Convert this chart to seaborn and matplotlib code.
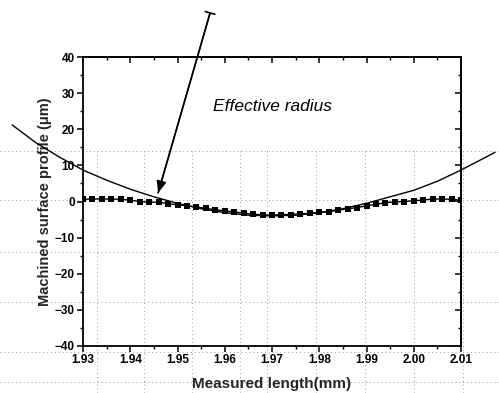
import matplotlib
matplotlib.use("Agg")
import matplotlib.pyplot as plt
import matplotlib.patches as mpatches
from matplotlib.lines import Line2D
from matplotlib.ticker import MultipleLocator
import numpy as np
import pandas as pd
import seaborn as sns

# Measured profile points (mm, µm)
measured_x = [1.930, 1.932, 1.934, 1.936, 1.938, 1.940, 1.942, 1.944, 1.946, 1.948,
              1.950, 1.952, 1.954, 1.956, 1.958, 1.960, 1.962, 1.964, 1.966, 1.968,
              1.970, 1.972, 1.974, 1.976, 1.978, 1.980, 1.982, 1.984, 1.986, 1.988,
              1.990, 1.992, 1.994, 1.996, 1.998, 2.000, 2.002, 2.004, 2.006, 2.008,
              2.010]
measured_y = [0.6, 0.7, 0.7, 0.7, 0.6, 0.4, 0.0, -0.2, -0.2, -0.6,
              -0.9, -1.2, -1.5, -1.9, -2.3, -2.6, -2.9, -3.2, -3.5, -3.7,
              -3.8, -3.6, -3.6, -3.4, -3.3, -3.0, -2.8, -2.4, -2.0, -1.7,
              -1.2, -0.8, -0.3, -0.1, 0.0, 0.2, 0.4, 0.7, 0.7, 0.6,
              0.4]

# Effective radius arc (mm, µm)
radius_x = [1.915, 1.920, 1.925, 1.930, 1.935, 1.940, 1.945, 1.950, 1.955, 1.960,
            1.965, 1.970, 1.975, 1.980, 1.985, 1.990, 1.995, 2.000, 2.005, 2.010,
            2.0172]
radius_y = [21.2, 16.3, 12.3, 8.7, 5.9, 3.4, 1.3, -0.5, -2.0, -3.1,
            -3.8, -4.0, -3.8, -3.1, -2.0, -0.5, 1.3, 3.1, 5.6, 8.7,
            13.6]

x_ticks = [1.93, 1.94, 1.95, 1.96, 1.97, 1.98, 1.99, 2.00, 2.01]
x_tick_labels = ["1.93", "1.94", "1.95", "1.96", "1.97", "1.98", "1.99", "2.00", "2.01"]
y_ticks = [-40, -30, -20, -10, 0, 10, 20, 30, 40]

sns.set_theme(style="white")
plt.rcParams["font.family"] = ["Liberation Sans", "DejaVu Sans"]

W, H = 499, 393
fig = plt.figure(figsize=(W / 100, H / 100), dpi=100)
fig.patch.set_facecolor("white")

# faint dotted graph-paper lines behind the plot
for yp in [151, 200, 252, 302, 352, 382]:
    fig.add_artist(Line2D([0, 1], [1 - yp / H] * 2, transform=fig.transFigure,
                          color="#9a9a9a", lw=0.7, ls=(0, (1, 3)), zorder=0))
for xp in [97, 144, 192, 240, 267, 316, 365, 414, 463]:
    fig.add_artist(Line2D([xp / W] * 2, [0, 1 - 150 / H], transform=fig.transFigure,
                          color="#9a9a9a", lw=0.7, ls=(0, (1, 3)), zorder=0))

ax = fig.add_axes([83 / W, 1 - 346 / H, (461 - 83) / W, (346 - 57) / H])
ax.set_facecolor("none")

radius_df = pd.DataFrame({"x": radius_x, "y": radius_y})
measured_df = pd.DataFrame({"x": measured_x, "y": measured_y})

sns.lineplot(data=radius_df, x="x", y="y", ax=ax, color="black", lw=1.0,
             sort=False, zorder=3)
for ln in ax.lines:
    ln.set_clip_on(False)
sns.lineplot(data=measured_df, x="x", y="y", ax=ax, color="black", lw=1.0,
             marker="s", markersize=4.3, markeredgewidth=0, zorder=4)

ax.set_xlim(1.93, 2.01)
ax.set_ylim(-40, 40)
ax.set_xticks(x_ticks)
ax.set_xticklabels(x_tick_labels)
ax.set_yticks(y_ticks)
ax.xaxis.set_minor_locator(MultipleLocator(0.005))
ax.yaxis.set_minor_locator(MultipleLocator(5))

for s in ax.spines.values():
    s.set_color("black")
    s.set_linewidth(1.3)

ax.tick_params(which="both", direction="out", colors="black", bottom=True, left=True,
               labelsize=8.5, pad=2)
ax.tick_params(which="major", length=4, width=1.1)
ax.tick_params(which="minor", length=2.5, width=1.0)
for lab in ax.get_xticklabels() + ax.get_yticklabels():
    lab.set_fontweight("bold")

# mirrored inward ticks on top and right
top = ax.secondary_xaxis("top")
top.set_xticks(x_ticks)
top.xaxis.set_minor_locator(MultipleLocator(0.005))
top.tick_params(which="both", direction="in", labeltop=False, colors="black")
top.tick_params(which="major", length=4, width=1.1)
top.tick_params(which="minor", length=2.5, width=1.0)
top.spines["top"].set_linewidth(1.3)
right = ax.secondary_yaxis("right")
right.set_yticks(y_ticks)
right.yaxis.set_minor_locator(MultipleLocator(5))
right.tick_params(which="both", direction="in", labelright=False, colors="black")
right.tick_params(which="major", length=4, width=1.1)
right.tick_params(which="minor", length=2.5, width=1.0)
right.spines["right"].set_linewidth(1.3)

ax.set_xlabel("Measured length(mm)", fontsize=11, fontweight="bold", labelpad=8)
ax.set_ylabel("Machined surface profile (\u03bcm)", fontsize=10.5, fontweight="bold",
              labelpad=2)

ax.text(1.970, 26.2, "Effective radius", fontsize=12.5, style="italic",
        ha="center", va="center", color="black")

# pointer arrow to the arc
tip = (1.9459, 2.4)
tail = (1.9569, 52.2)
ax.annotate("", xy=tip, xytext=tail, annotation_clip=False,
            arrowprops=dict(arrowstyle="-|>,head_length=0.6,head_width=0.25",
                            color="black", lw=1.0, shrinkA=0, shrinkB=0))
ax.annotate("", xy=tip, xytext=tail, annotation_clip=False,
            arrowprops=dict(arrowstyle=mpatches.ArrowStyle("|-|", widthA=0.3, widthB=0.0),
                            color="black", lw=1.2, shrinkA=0, shrinkB=0))

fig.savefig("out.png", dpi=100, facecolor="white")
